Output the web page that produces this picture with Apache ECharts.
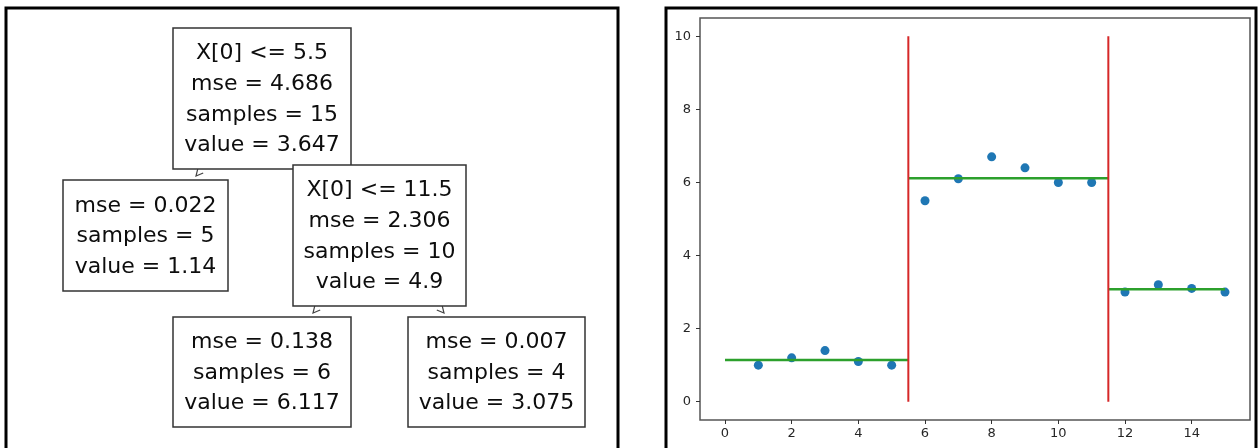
<!DOCTYPE html>
<html>
<head>
<meta charset="utf-8">
<script src="https://cdn.jsdelivr.net/npm/echarts@6/dist/echarts.min.js"></script>
<style>
html,body{margin:0;padding:0;background:#fff;}
#c{width:1258px;height:448px;}
</style>
</head>
<body>
<div id="c"></div>
<script>
// ---- Data (regression tree fitted on 15 points) ----
const xValues = [1, 2, 3, 4, 5, 6, 7, 8, 9, 10, 11, 12, 13, 14, 15];
const yValues = [1.0, 1.2, 1.4, 1.1, 1.0, 5.5, 6.1, 6.7, 6.4, 6.0, 6.0, 3.0, 3.2, 3.1, 3.0];
const splitThresholds = [5.5, 11.5];
const leafValues = [1.14, 6.117, 3.075];
const fitRange = [0, 15];
const splitLineRange = [0, 10];
const xTickLabels = [0, 2, 4, 6, 8, 10, 12, 14];
const yTickLabels = [0, 2, 4, 6, 8, 10];

// tree node texts
const rootNodeText = ['X[0] <= 5.5', 'mse = 4.686', 'samples = 15', 'value = 3.647'];
const leftLeafText = ['mse = 0.022', 'samples = 5', 'value = 1.14'];
const rightNodeText = ['X[0] <= 11.5', 'mse = 2.306', 'samples = 10', 'value = 4.9'];
const midLeafText = ['mse = 0.138', 'samples = 6', 'value = 6.117'];
const rightLeafText = ['mse = 0.007', 'samples = 4', 'value = 3.075'];

// ---- Layout for tree diagram (pixel boxes) ----
const treeBoxes = [
  {lines: rootNodeText, x: 173, y: 28, w: 178, h: 141},
  {lines: leftLeafText, x: 63, y: 180, w: 165, h: 111},
  {lines: rightNodeText, x: 293, y: 165, w: 173, h: 141},
  {lines: midLeafText, x: 173, y: 317, w: 178, h: 110},
  {lines: rightLeafText, x: 408, y: 317, w: 177, h: 110}
];

const graphic = [];
// panel frames
graphic.push({type: 'rect', shape: {x: 6, y: 8, width: 612, height: 460}, style: {fill: 'none', stroke: '#000', lineWidth: 3}, z: 100});
graphic.push({type: 'rect', shape: {x: 666, y: 8, width: 590, height: 460}, style: {fill: 'none', stroke: '#000', lineWidth: 3}, z: 100});

// arrow heads (tips just above child boxes)
const arrowHeads = [
  {tip: [196, 176], dir: [-117, 137]},
  {tip: [313, 313], dir: [-117, 137]},
  {tip: [444, 313], dir: [117, 137]}
];
arrowHeads.forEach(a => {
  const L = Math.hypot(a.dir[0], a.dir[1]);
  const ux = a.dir[0] / L, uy = a.dir[1] / L;
  const px = -uy, py = ux;
  const len = 7, wid = 3.5;
  const bx = a.tip[0] - ux * len, by = a.tip[1] - uy * len;
  graphic.push({
    type: 'polyline',
    shape: {points: [[bx + px * wid, by + py * wid], a.tip, [bx - px * wid, by - py * wid]]},
    style: {stroke: '#444', lineWidth: 1.2, fill: 'none'},
    z: 5
  });
});

treeBoxes.forEach(b => {
  graphic.push({
    type: 'rect',
    shape: {x: b.x, y: b.y, width: b.w, height: b.h},
    style: {fill: '#fff', stroke: '#333', lineWidth: 1.5},
    z: 10
  });
  graphic.push({
    type: 'text',
    x: b.x + b.w / 2,
    y: b.y + b.h / 2 + 1,
    style: {
      text: b.lines.join('\n'),
      font: '22px "DejaVu Sans"',
      fill: '#0d0d0d',
      align: 'center',
      verticalAlign: 'middle',
      lineHeight: 30.6
    },
    z: 11
  });
});

// ---- Series for the scatter / step chart ----
const series = [];
series.push({
  type: 'scatter',
  data: xValues.map((x, i) => [x, yValues[i]]),
  symbolSize: 9,
  itemStyle: {color: '#1f77b4', opacity: 1},
  z: 2
});
const bounds = [fitRange[0], ...splitThresholds, fitRange[1]];
leafValues.forEach((v, i) => {
  series.push({
    type: 'line',
    data: [[bounds[i], v], [bounds[i + 1], v]],
    showSymbol: false,
    lineStyle: {color: '#2ca02c', width: 2.5},
    z: 3
  });
});
splitThresholds.forEach(s => {
  series.push({
    type: 'line',
    data: [[s, splitLineRange[0]], [s, splitLineRange[1]]],
    showSymbol: false,
    lineStyle: {color: '#d62728', width: 2},
    z: 4
  });
});

const chart = echarts.init(document.getElementById('c'));
chart.setOption({
  animation: false,
  backgroundColor: '#fff',
  grid: {left: 700, right: 8, top: 18, bottom: 28, show: true, borderColor: '#555', borderWidth: 1.5, backgroundColor: 'transparent'},
  xAxis: {
    type: 'value', min: -0.75, max: 15.75,
    splitLine: {show: false},
    axisLine: {show: false, onZero: false},
    axisTick: {show: true, length: 4, lineStyle: {color: '#333'}, customValues: xTickLabels},
    axisLabel: {customValues: xTickLabels, color: '#262626', fontSize: 13, fontFamily: 'DejaVu Sans', margin: 7}
  },
  yAxis: {
    type: 'value', min: -0.5, max: 10.5,
    splitLine: {show: false},
    axisLine: {show: false, onZero: false},
    axisTick: {show: true, length: 4, lineStyle: {color: '#333'}, customValues: yTickLabels},
    axisLabel: {customValues: yTickLabels, color: '#262626', fontSize: 13, fontFamily: 'DejaVu Sans', margin: 9}
  },
  series: series,
  graphic: graphic
});
</script>
</body>
</html>
